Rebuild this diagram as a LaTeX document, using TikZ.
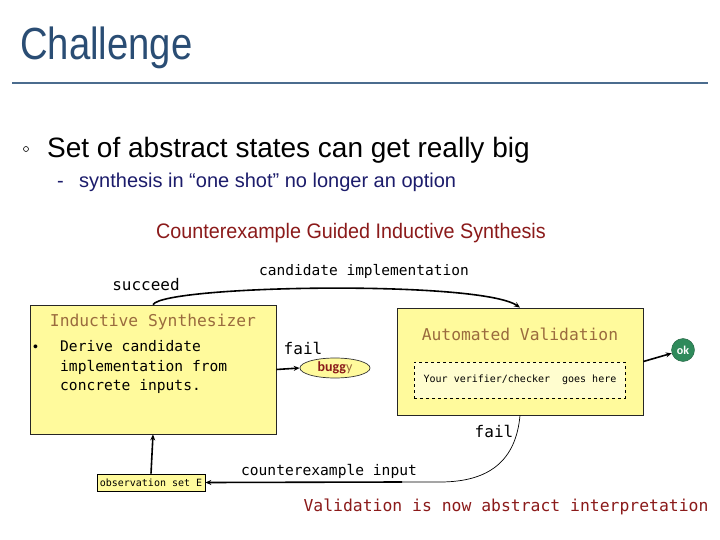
\documentclass[tikz,border=0pt]{standalone}
\usepackage{fontspec}
\setmainfont{Liberation Sans}
\newfontfamily\monof{DejaVu Sans Mono}
\newfontfamily\calib{Carlito}
\usetikzlibrary{arrows.meta,shapes.geometric}
\definecolor{titleblue}{HTML}{2A4D74}
\definecolor{rulec}{HTML}{4B6C8E}
\definecolor{navyc}{HTML}{1C1C6B}
\definecolor{darkred}{HTML}{8B1A1A}
\definecolor{brownc}{HTML}{9A6B3E}
\definecolor{boxyellow}{HTML}{FFFA9C}
\definecolor{inneryellow}{HTML}{FFFDCF}
\definecolor{okgreen}{HTML}{2F8A5B}
\tikzset{
  bigbox/.style={draw=black!85, fill=boxyellow, line width=0.8pt, inner sep=0pt},
  mono/.style={font=\monof\fontsize{#1}{#1}\selectfont, inner sep=0pt},
  flow/.style={line width=1.6pt, -{Stealth[length=6pt,width=5pt]}},
}
\begin{document}
\begin{tikzpicture}[x=1pt,y=-1pt]
\useasboundingbox[fill=white] (0,0) rectangle (720,540);

% header
\node[anchor=base west, inner sep=0pt, text=titleblue] (title) at (20,60)
  {\scalebox{0.85}[1]{\fontsize{45}{54}\selectfont Challenge}};
\draw[line width=2pt, rulec] (12,83) -- (708,83);
\node[draw=black, circle, minimum size=5pt, inner sep=0pt, line width=0.6pt] (bul1) at (26,149) {};
\node[anchor=base west, inner sep=0pt, font=\fontsize{28}{32}\selectfont] (line1) at (47,158)
  {Set of abstract states can get really big};
\node[anchor=base west, inner sep=0pt, text=navyc, font=\fontsize{20}{24}\selectfont] (dash1) at (57,188) {-};
\node[anchor=base west, inner sep=0pt, text=navyc, font=\fontsize{20}{24}\selectfont] (line2) at (79,188)
  {synthesis in “one shot” no longer an option};
\node[anchor=base, inner sep=0pt, text=darkred] (cegis) at (351,239)
  {\scalebox{0.94}[1]{\fontsize{21}{24}\selectfont Counterexample Guided Inductive Synthesis}};

% boxes
\node[bigbox, minimum width=246pt, minimum height=129pt] (synth) at (153,369.5) {};
\node[mono=16.3, text=brownc] (synthT) at (153,322) {Inductive Synthesizer};
\node[anchor=base west, inner sep=0pt, font=\fontsize{14}{14}\selectfont] (dot) at (33,351) {•};
\node[mono=14.6, anchor=base west] (s1) at (60,351) {Derive candidate};
\node[mono=14.6, anchor=base west] (s2) at (60,371) {implementation from};
\node[mono=14.6, anchor=base west] (s3) at (60,390) {concrete inputs.};

\node[bigbox, minimum width=246pt, minimum height=107pt] (val) at (520,361.5) {};
\node[mono=16.3, text=brownc] (valT) at (520,334) {Automated Validation};
\node[draw=black, dashed, fill=inneryellow, line width=0.7pt, minimum width=211pt, minimum height=36pt, inner sep=0pt] (inner) at (519.5,380) {};
\node[mono=10] (innerT) at (520,380) {Your verifier/checker\ \ goes here};

\node[circle, fill=okgreen, draw=okgreen!70!black, minimum size=23pt, inner sep=0pt,
  text=white, font=\calib\bfseries\fontsize{12}{12}\selectfont] (ok) at (683,350) {ok};
\node[ellipse, draw=black!80, fill=boxyellow, line width=0.7pt, minimum width=70pt, minimum height=20pt, inner sep=0pt,
  font=\calib\fontsize{14}{14}\selectfont] (buggy) at (335,368)
  {\textcolor{darkred}{\bfseries bugg}\textcolor{brownc}{y}};

\node[draw=black, fill=boxyellow, line width=0.7pt, minimum width=108pt, minimum height=17pt, inner sep=0pt] (obs) at (151,482.5) {};
\node[mono=10] (obsT) at (151,482.5) {observation set E};

% labels
\node[mono=16] (succ) at (146,285) {succeed};
\node[mono=14.5] (cand) at (364,271) {candidate implementation};
\node[mono=16] (fail1) at (303,348) {fail};
\node[mono=16] (fail2) at (494,431) {fail};
\node[mono=14.6] (cex) at (329,471) {counterexample input};
\node[mono=16.4, text=darkred] (bottom) at (506,507) {Validation is now abstract interpretation};

% connectors
\draw[flow] (synth.north) .. controls (165,285) and (480,280) .. (val.north);
\draw[flow] (synth.east) -- (buggy.west);
\draw[flow] (val.east) -- (ok);
\coordinate (cexend) at (402,482);
\draw[line width=0.7pt] (val.south) .. controls (516,460) and (490,482) .. (440,482) -- (cexend);
\draw[flow] (cexend) -- (obs.east);
\draw[flow] (obs.north) -- (synth.south);
\end{tikzpicture}
\end{document}
